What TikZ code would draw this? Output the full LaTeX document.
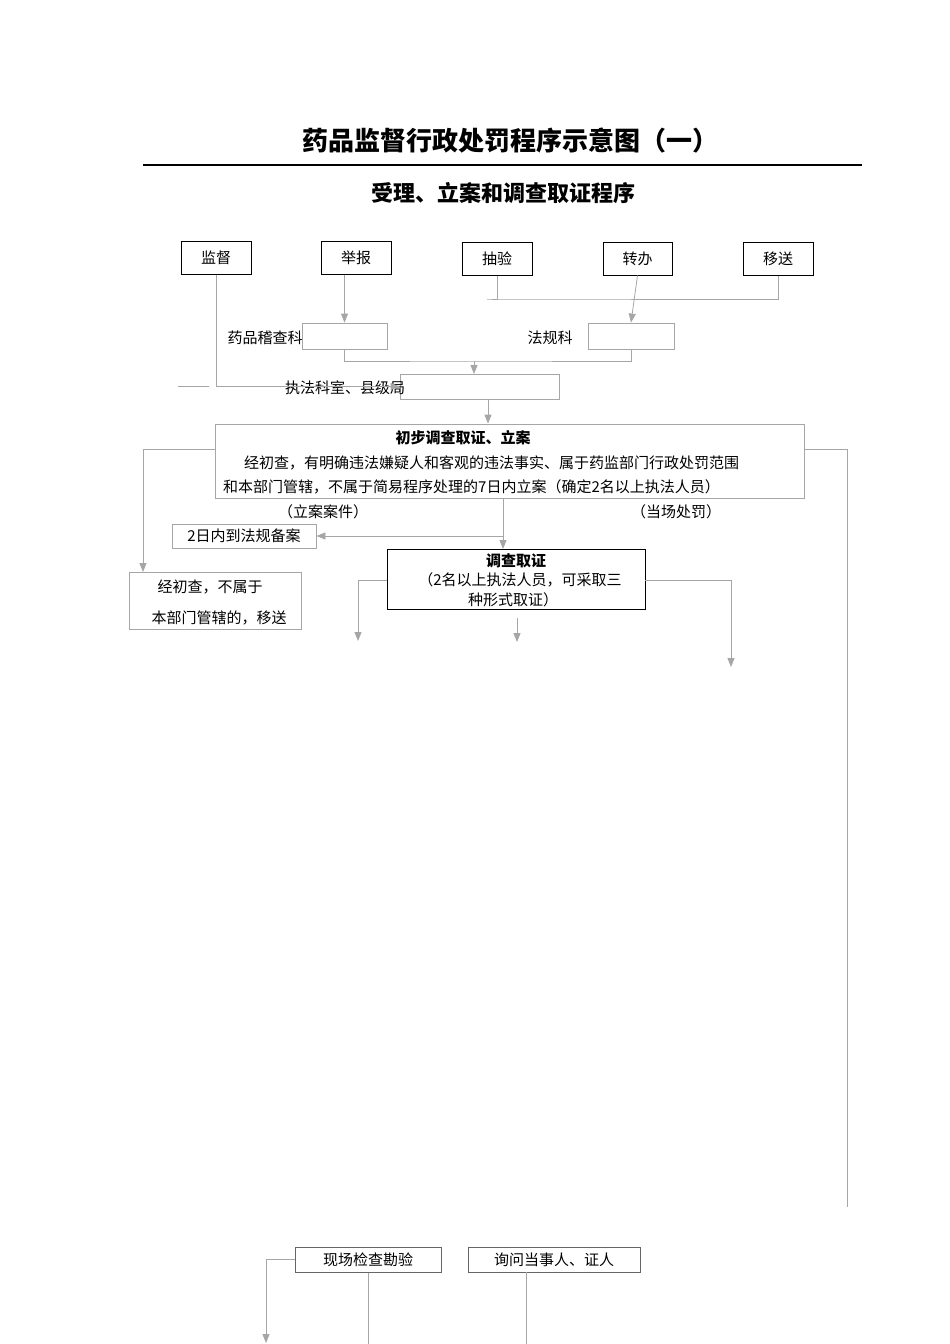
\documentclass[tikz,border=0pt]{standalone}
\usepackage{fontspec}
\setmainfont{Noto Sans CJK SC}
\usetikzlibrary{arrows.meta}
\begin{document}
\begin{tikzpicture}[x=1pt,y=-1pt,
  bb/.style={draw=black,line width=1pt},
  gb/.style={draw=gray!70,line width=0.8pt},
  gl/.style={draw=gray!70,line width=0.8pt},
  ar/.style={-{Triangle[length=9pt,width=7pt]}},
  t/.style={font=\fontsize{15}{18}\selectfont,inner sep=0pt}]
\useasboundingbox (0,0) rectangle (950,1344);
\node[font=\bfseries\fontsize{26}{30}\selectfont] (title) at (510,141) {药品监督行政处罚程序示意图（一）};
\draw[line width=1.5pt] (143,165) -- (862,165);
\node[font=\bfseries\fontsize{22}{26}\selectfont] (sub) at (503,193) {受理、立案和调查取证程序};
% sources
\node[bb,t,minimum width=70pt,minimum height=33pt] (jd) at (216,257.5) {监督};
\node[bb,t,minimum width=70pt,minimum height=33pt] (jb) at (356,257.5) {举报};
\node[bb,t,minimum width=70pt,minimum height=33pt] (cy) at (497,258.5) {抽验};
\node[bb,t,minimum width=69pt,minimum height=33pt] (zb) at (637.5,258.5) {转办};
\node[bb,t,minimum width=70pt,minimum height=33pt] (ys) at (778,258.5) {移送};
% departments
\node[gb,minimum width=85pt,minimum height=26pt,inner sep=0pt] (ypk) at (344.5,336) {};
\node[t] (ypkl) at (265,338) {药品稽查科};
\node[gb,minimum width=86pt,minimum height=26pt,inner sep=0pt] (fgk) at (631,336) {};
\node[t] (fgkl) at (550,338) {法规科};
\node[gb,minimum width=159pt,minimum height=25pt,inner sep=0pt] (zf) at (479.5,386.5) {};
\node[t] (zfl) at (345,388) {执法科室、县级局};
\coordinate (c1) at (487,299);
\draw[gl] (cy.south) |- (c1) -| (ys.south);
\draw[gl,ar] (zb.south) -- (fgk.north);
\draw[gl,ar] (jb.south -| ypk.north) -- (ypk.north);
\draw[gl,ar] (jd.south) |- (zf.west);
\draw[gl] (178,386) -- (209,386);
\coordinate (c2) at (474,361);
\draw[gl] (ypk.south) |- (c2) -| (fgk.south);
\draw[gl,ar] (c2) -- (474,374);
% main box
\node[gb,minimum width=589pt,minimum height=74pt,inner sep=0pt] (main) at (509.5,461) {};
\node[t,font=\bfseries\fontsize{15}{18}\selectfont] (mt) at (463,438) {初步调查取证、立案};
\node[t,anchor=west] (m1) at (244,463) {经初查，有明确违法嫌疑人和客观的违法事实、属于药监部门行政处罚范围};
\node[t,anchor=west] (m2) at (223,487) {和本部门管辖，不属于简易程序处理的7日内立案（确定2名以上执法人员）};
\draw[gl,ar] (zf.south -| 488,0) -- (main.north -| 488,0);
\node[t] (la) at (323,512) {（立案案件）};
\node[t] (lb) at (676,512) {（当场处罚）};
% left branch
\node[gb,minimum width=172pt,minimum height=57pt,inner sep=0pt] (yz) at (215,600.5) {};
\node[t] (y1) at (210,587) {经初查，不属于};
\node[t] (y2) at (219,618) {本部门管辖的，移送};
\coordinate (c3) at (143,449);
\draw[gl] (215,449) -- (c3);
\draw[gl,ar] (c3) -- (143,572);
% right line
\draw[gl] (804,449) -- (847,449) -- (847,1207);
% record
\node[gb,t,minimum width=144pt,minimum height=24pt] (ba) at (244,536) {2日内到法规备案};
\node[bb,minimum width=258pt,minimum height=60pt,inner sep=0pt] (dc) at (516,579) {};
\node[t,font=\bfseries\fontsize{15}{18}\selectfont] (dct) at (516,561) {调查取证};
\node[t] (d1) at (520,580) {（2名以上执法人员，可采取三};
\node[t] (d2) at (513,600) {种形式取证）};
\draw[gl,ar] (503,498) -- (503,549);
\draw[gl,ar] (503,536) -- (ba.east);
\draw[gl,ar] (387,580) -- (358,580) -- (358,641);
\draw[gl,ar] (517,618) -- (517,642);
\draw[gl,ar] (645,580) -- (731,580) -- (731,667);
% bottom
\node[bb,t,draw=gray!80!black,minimum width=146pt,minimum height=25pt] (xc) at (368,1259.5) {现场检查勘验};
\node[bb,t,draw=gray!80!black,minimum width=172pt,minimum height=25pt] (xw) at (554,1259.5) {询问当事人、证人};
\draw[gl,ar] (xc.west) -- (266,1259.5) -- (266,1343);
\draw[gl] (xc.south) -- (368,1344);
\draw[gl] (526,1272) -- (526,1344);
\end{tikzpicture}
\end{document}
